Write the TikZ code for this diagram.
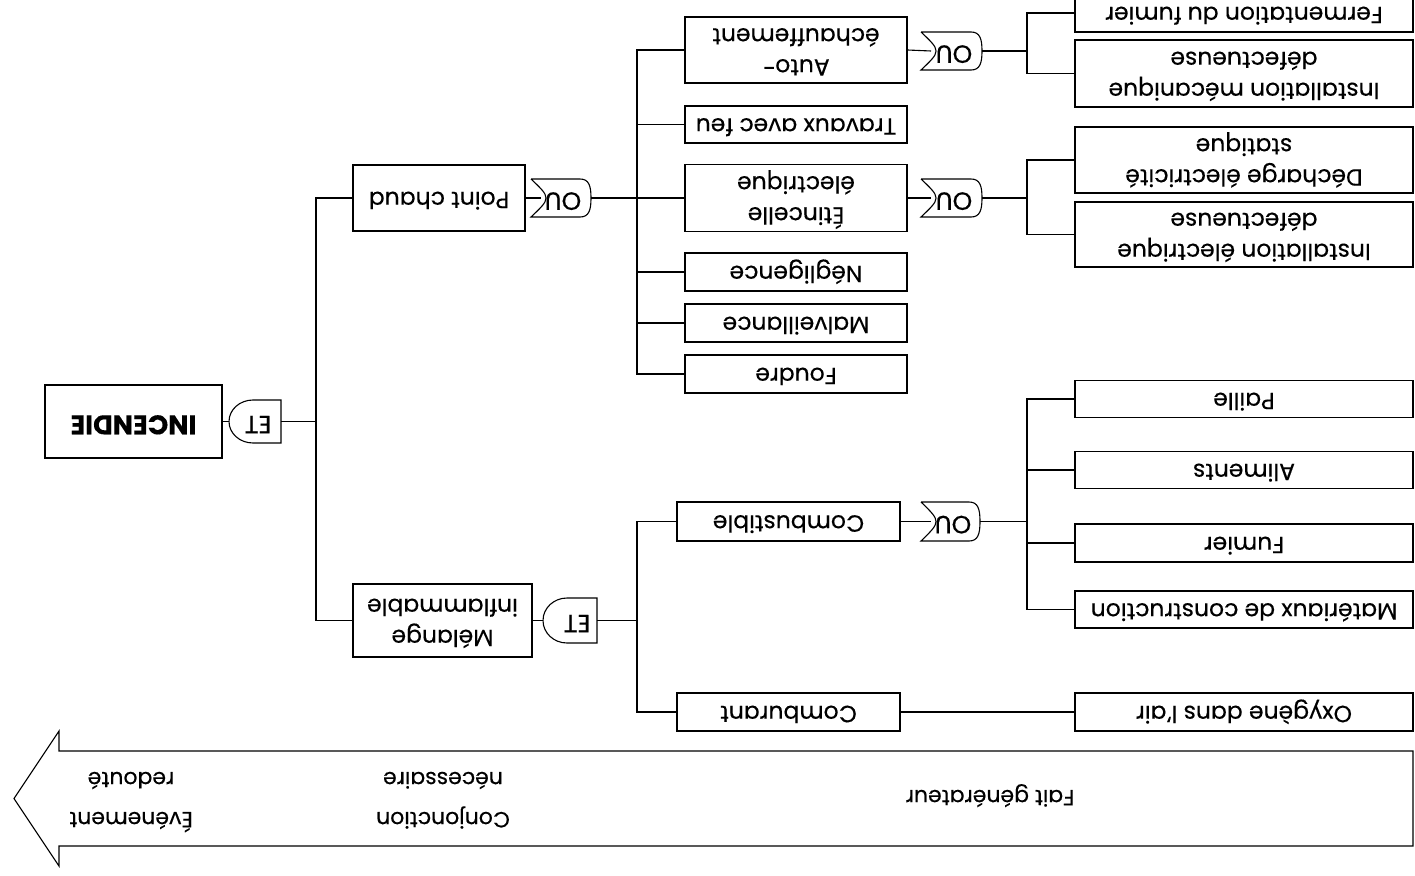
\documentclass[tikz,border=0pt]{standalone}
\usepackage{fontspec}
\setmainfont{Poppins}[FakeBold=0.3]
\usepackage{graphicx}
\newcommand\ud[1]{\rotatebox[origin=c]{180}{\begin{tabular}{@{}c@{}}#1\end{tabular}}}
\begin{document}
\begin{tikzpicture}[x=1pt,y=-1pt,line width=1.1pt,
  box/.style={draw, inner sep=0pt, font=\fontsize{23.5}{31}\selectfont},
  wide/.style={box, minimum width=222pt},
  mid/.style={box, minimum width=223pt},
  far/.style={box, minimum width=338pt},
  gatetxt/.style={inner sep=0pt, font=\fontsize{25}{28}\selectfont},
  arrtxt/.style={inner sep=0pt, font=\fontsize{22}{40}\selectfont}]
\useasboundingbox[fill=white] (0,0) rectangle (1415,875);

% arrow
\draw (1413,751) -- (59,751) -- (59,731) -- (14,798.5) -- (59,866) -- (59,846) -- (1413,846) -- cycle;
\node[arrtxt] (t1) at (990,798) {\ud{Fait générateur}};
\node[arrtxt] (t2) at (443,800) {\ud{Conjonction\\nécessaire}};
\node[arrtxt] (t3) at (131,800) {\ud{Événement\\redouté}};

% boxes
\node[box, minimum width=177pt, minimum height=73pt, font=\fontsize{27}{31}\selectfont\bfseries] (inc) at (133.5,421.5) {\ud{INCENDIE}};
\node[box, minimum width=172pt, minimum height=66pt] (pc) at (439,198) {\ud{Point chaud}};
\node[box, minimum width=179pt, minimum height=73pt] (mel) at (442.5,620.5) {\ud{Mélange\\inflammable}};

\node[wide, minimum height=66pt] (auto) at (796,50) {\ud{Auto-\\échauffement}};
\node[wide, minimum height=37pt] (trav) at (796,124.5) {\ud{Travaux avec feu}};
\node[wide, minimum height=67pt] (etin) at (796,198) {\ud{Étincelle\\électrique}};
\node[wide, minimum height=38pt] (neg) at (796,272) {\ud{Négligence}};
\node[wide, minimum height=38pt] (malv) at (796,323) {\ud{Malveillance}};
\node[wide, minimum height=38pt] (foud) at (796,374) {\ud{Foudre}};
\node[mid, minimum height=39pt] (comb) at (788.5,521.5) {\ud{Combustible}};
\node[mid, minimum height=38pt] (combu) at (788.5,712) {\ud{Comburant}};

\node[far, minimum height=38pt] (ferm) at (1244,13) {\ud{Fermentation du fumier}};
\node[far, minimum height=67pt] (imec) at (1244,73.5) {\ud{Installation mécanique\\défectueuse}};
\node[far, minimum height=66pt] (dech) at (1244,160) {\ud{Décharge électricité\\statique}};
\node[far, minimum height=65pt] (ielec) at (1244,234.5) {\ud{Installation électrique\\défectueuse}};
\node[far, minimum height=37pt] (paille) at (1244,399) {\ud{Paille}};
\node[far, minimum height=37pt] (alim) at (1244,470) {\ud{Aliments}};
\node[far, minimum height=38pt] (fum) at (1244,543) {\ud{Fumier}};
\node[far, minimum height=37pt] (mat) at (1244,609.5) {\ud{Matériaux de construction}};
\node[far, minimum height=38pt] (oxy) at (1244,712) {\ud{Oxygène dans l'air}};

% AND gates
\draw (281,400) -- (253,400) .. controls (239.75,400) and (229,409.63) .. (229,421.5) .. controls (229,433.37) and (239.75,443) .. (253,443) -- (281,443) -- cycle;
\node[gatetxt] (g1) at (258,421.5) {\ud{ET}};
\coordinate (g1a) at (229,421.5); \coordinate (g1b) at (281,421.5);

\draw (597,598) -- (567,598) .. controls (553.75,598) and (543,608.08) .. (543,620.5) .. controls (543,632.92) and (553.75,643) .. (567,643) -- (597,643) -- cycle;
\node[gatetxt] (g2) at (577,620.5) {\ud{ET}};
\coordinate (g2a) at (543,620.5); \coordinate (g2b) at (597,620.5);

% OR gates
\draw (531,179) -- (580,179) .. controls (589,179) and (591,186) .. (591,198) .. controls (591,210) and (589,217) .. (580,217) -- (531,217) .. controls (551,198) .. (531,179);
\node[gatetxt] (g3) at (563,198) {\ud{OU}};
\coordinate (g3a) at (541,198); \coordinate (g3b) at (591,198);

\draw (921,32) -- (971,32) .. controls (980,32) and (982,39) .. (982,51) .. controls (982,63) and (980,70) .. (971,70) -- (921,70) .. controls (941,51) .. (921,32);
\node[gatetxt] (g4) at (954,51) {\ud{OU}};
\coordinate (g4a) at (931,51); \coordinate (g4b) at (982,51);

\draw (921,179) -- (971,179) .. controls (980,179) and (982,186) .. (982,198) .. controls (982,210) and (980,217) .. (971,217) -- (921,217) .. controls (941,198) .. (921,179);
\node[gatetxt] (g5) at (954,198) {\ud{OU}};
\coordinate (g5a) at (931,198); \coordinate (g5b) at (982,198);

\draw (921,502) -- (969,502) .. controls (978,502) and (980,509) .. (980,521.5) .. controls (980,534) and (978,541) .. (969,541) -- (921,541) .. controls (941,521.5) .. (921,502);
\node[gatetxt] (g6) at (953,521.5) {\ud{OU}};
\coordinate (g6a) at (931,521.5); \coordinate (g6b) at (980,521.5);

% bus coordinates
\coordinate (b1) at (316,421.5);
\coordinate (b2) at (637,198);
\coordinate (b3) at (637,620.5);
\coordinate (b4) at (1027,521.5);
\coordinate (b5) at (1027,51);
\coordinate (b6) at (1027,198);

% connectors
\draw (inc.east) -- (g1a);
\draw (g1b) -- (b1);
\draw (pc.west) -| (b1) |- (mel.west);
\draw (pc.east) -- (g3a);
\draw (g3b) -- (b2);
\draw (auto.west) -| (b2) |- (foud.west);
\draw (trav.west) -- (trav.west -| b2);
\draw (etin.west) -- (b2);
\draw (neg.west) -- (neg.west -| b2);
\draw (malv.west) -- (malv.west -| b2);
\draw (mel.east) -- (g2a);
\draw (g2b) -- (b3);
\draw (comb.west) -| (b3) |- (combu.west);
\draw (combu.east) -- (oxy.west);
\draw (comb.east) -- (g6a);
\draw (g6b) -- (b4);
\draw (paille.west) -| (b4) |- (mat.west);
\draw (alim.west) -- (alim.west -| b4);
\draw (fum.west) -- (fum.west -| b4);
\draw (auto.east) -- (g4a);
\draw (g4b) -- (b5);
\draw (ferm.west) -| (b5) |- (imec.west);
\draw (etin.east) -- (g5a);
\draw (g5b) -- (b6);
\draw (dech.west) -| (b6) |- (ielec.west);
\end{tikzpicture}
\end{document}
